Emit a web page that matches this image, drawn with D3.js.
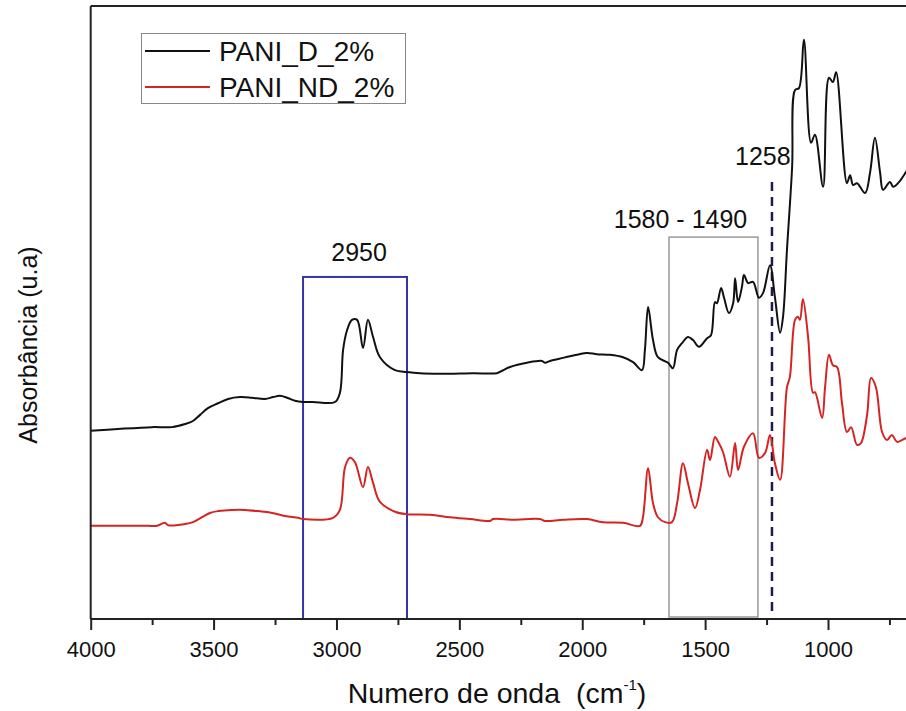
<html>
    <head>
        <script src="https://d3js.org/d3.v7.min.js"></script>
        <style>
            body { margin: 0; background: #fff; }
            text { font-family: "Liberation Sans", Arial, sans-serif; fill: #111; white-space: pre; }
        </style>
    </head>
    <body>
        <svg width="906" height="711"></svg>
        <script>
        // wavenumber (cm-1) and absorbance (arbitrary units)
        const waveD = [4000, 3889, 3751, 3669, 3616, 3584, 3555, 3523, 3482, 3441, 3392, 3344, 3291, 3258, 3230, 3201,
            3169, 3136, 3096, 3006, 2986, 2973, 2957, 2937, 2916, 2892, 2872, 2851, 2823, 2762, 2713, 2660, 2579, 2538,
            2444, 2347, 2326, 2294, 2225, 2164, 2151, 2131, 2078, 2021, 1981, 1940, 1887, 1834, 1793, 1757, 1745, 1732,
            1712, 1692, 1651, 1631, 1614, 1594, 1570, 1549, 1525, 1492, 1476, 1460, 1452, 1435, 1423, 1403, 1386, 1378,
            1366, 1350, 1342, 1325, 1305, 1281, 1264, 1236, 1216, 1195, 1183, 1167, 1146, 1134, 1118, 1098, 1069, 1053,
            1020, 996, 980, 967, 923, 910, 898, 882, 849, 829, 809, 788, 776, 748, 735, 715, 683, 666];
        const absD = [30.7, 31.0, 31.3, 31.3, 31.8, 32.3, 33.3, 34.4, 35.2, 35.9, 36.2, 36.1, 35.9, 36.2, 36.4, 36.1,
            35.6, 35.4, 35.4, 35.4, 36.9, 43.9, 47.1, 48.8, 48.8, 44.2, 48.8, 46.0, 42.7, 40.6, 40.3, 40.1, 40.0, 40.0,
            40.1, 40.1, 40.5, 41.1, 41.8, 42.1, 41.8, 42.1, 42.6, 43.1, 43.4, 43.2, 43.1, 42.7, 41.9, 40.6, 43.9, 50.9,
            45.5, 42.7, 41.8, 40.9, 43.9, 45.0, 46.0, 45.5, 44.4, 45.8, 46.3, 51.7, 51.5, 54.0, 52.4, 49.9, 51.5, 55.6,
            51.7, 54.2, 56.1, 54.8, 55.0, 52.4, 53.2, 57.7, 52.5, 46.7, 49.3, 60.2, 73.7, 86.3, 86.6, 94.5, 77.7, 79.0,
            70.5, 88.3, 87.6, 89.2, 71.1, 72.4, 70.8, 71.1, 69.5, 72.8, 78.5, 72.8, 70.0, 71.3, 70.5, 71.1, 72.9, 74.0];

        const waveND = [4000, 3889, 3767, 3730, 3698, 3685, 3616, 3584, 3547, 3515, 3482, 3425, 3372, 3319, 3262, 3209,
            3156, 3136, 3014, 2986, 2965, 2945, 2925, 2892, 2872, 2851, 2823, 2762, 2713, 2619, 2538, 2457, 2375, 2363,
            2282, 2172, 2151, 2078, 1981, 1916, 1834, 1765, 1753, 1732, 1712, 1692, 1663, 1635, 1614, 1590, 1570, 1541,
            1521, 1492, 1480, 1460, 1447, 1427, 1399, 1378, 1366, 1342, 1305, 1281, 1256, 1236, 1216, 1195, 1167, 1155,
            1134, 1122, 1114, 1102, 1081, 1061, 1053, 1024, 1012, 996, 980, 963, 943, 923, 906, 882, 866, 841, 825, 805,
            780, 760, 740, 719, 683, 666];
        const absND = [15.2, 15.2, 15.2, 15.2, 15.7, 15.3, 15.5, 15.8, 16.6, 17.3, 17.6, 17.8, 17.8, 17.6, 17.3, 16.8,
            16.5, 16.3, 16.5, 17.8, 24.8, 26.3, 25.6, 21.5, 24.8, 22.2, 19.1, 17.5, 17.1, 17.0, 16.6, 16.3, 16.0, 16.3,
            16.2, 16.3, 16.0, 16.2, 16.3, 15.8, 15.7, 15.2, 16.6, 24.6, 18.9, 16.6, 15.8, 15.8, 18.9, 25.4, 22.2, 18.1,
            21.0, 27.6, 25.9, 29.7, 28.9, 27.2, 23.2, 28.7, 24.3, 28.1, 30.3, 26.3, 27.1, 30.0, 25.4, 22.7, 37.8, 39.5,
            48.8, 49.3, 48.8, 52.2, 46.0, 36.9, 37.0, 32.8, 37.8, 43.1, 41.4, 41.1, 35.2, 30.5, 31.3, 28.4, 28.7, 33.3,
            39.3, 37.8, 30.5, 29.2, 30.0, 28.9, 29.5, 29.5];

        const seriesNames = ['PANI_D_2%', 'PANI_ND_2%'];
        const seriesColors = ['#111111', '#d42424'];
        const xTicks = [4000, 3500, 3000, 2500, 2000, 1500, 1000];

        // marked regions: [from, to] in cm-1, top in absorbance units
        const box2950 = [3136, 2713, 55.8];
        const box1580 = [1647, 1285, 62.3];
        const line1258 = [1228, 1.0, 71.3];

        const svg = d3.select('svg');
        svg.append('rect').attr('width', 906).attr('height', 711).attr('fill', '#fff');

        const x = d3.scaleLinear().domain([4000, 1000]).range([90.7, 828]);
        const y = d3.scaleLinear().domain([0, 100]).range([619, 6]);

        svg.append('clipPath').attr('id', 'plot')
            .append('rect').attr('x', 90.7).attr('y', 6).attr('width', 900).attr('height', 613);

        const layer = svg.append('g').attr('clip-path', 'url(#plot)');

        // boxes and marker
        layer.append('rect')
            .attr('x', x(box2950[0])).attr('y', y(box2950[2]))
            .attr('width', x(box2950[1]) - x(box2950[0])).attr('height', y(0) - y(box2950[2]))
            .attr('fill', 'none').attr('stroke', '#3535a8').attr('stroke-width', 2);
        layer.append('rect')
            .attr('x', x(box1580[0])).attr('y', y(box1580[2]))
            .attr('width', x(box1580[1]) - x(box1580[0])).attr('height', y(0) - y(box1580[2]) - 2)
            .attr('fill', 'none').attr('stroke', '#999').attr('stroke-width', 1.5);
        layer.append('line')
            .attr('x1', x(line1258[0])).attr('x2', x(line1258[0]))
            .attr('y1', y(line1258[2])).attr('y2', y(line1258[1]))
            .attr('stroke', '#1c1c50').attr('stroke-width', 2.5).attr('stroke-dasharray', '9,6');

        const line = d3.line().x(d => x(d[0])).y(d => y(d[1])).curve(d3.curveCatmullRom.alpha(0.5));
        const dataD = waveD.map((w, i) => [w, absD[i]]);
        const dataND = waveND.map((w, i) => [w, absND[i]]);

        layer.selectAll('path.spec').data([dataD, dataND])
            .join('path')
            .attr('class', 'spec')
            .attr('d', line)
            .attr('fill', 'none')
            .attr('stroke', (d, i) => seriesColors[i])
            .attr('stroke-width', 2)
            .attr('stroke-linejoin', 'round');

        // frame
        svg.append('line').attr('x1', 90.7).attr('x2', 906).attr('y1', 6).attr('y2', 6)
            .attr('stroke', '#222').attr('stroke-width', 2);
        svg.append('line').attr('x1', 90.7).attr('x2', 90.7).attr('y1', 6).attr('y2', 619)
            .attr('stroke', '#222').attr('stroke-width', 2);

        // x axis
        const minor = d3.range(3750, 500, -500);
        svg.append('g').attr('transform', 'translate(0,619)')
            .call(d3.axisBottom(x).tickValues(minor).tickSize(6).tickFormat(''))
            .call(g => g.select('.domain').remove())
            .call(g => g.selectAll('line').attr('stroke', '#222').attr('stroke-width', 2));
        const xAxis = svg.append('g').attr('transform', 'translate(0,619)')
            .call(d3.axisBottom(x).tickValues(xTicks).tickFormat(d3.format('d'))
                .tickSize(11).tickPadding(11).tickSizeOuter(0));
        xAxis.select('.domain').attr('d', 'M90.7,0H906').attr('stroke', '#222').attr('stroke-width', 2);
        xAxis.selectAll('line').attr('stroke', '#222').attr('stroke-width', 2);
        xAxis.selectAll('text').attr('font-size', 22).attr('fill', '#111')
            .attr('font-family', '"Liberation Sans", Arial, sans-serif');

        // titles
        const xt = svg.append('text').attr('x', 497).attr('y', 703)
            .attr('text-anchor', 'middle').attr('font-size', 28.5);
        xt.append('tspan').text('Numero de onda  (cm');
        xt.append('tspan').attr('font-size', 15).attr('dy', -13).text('-1');
        xt.append('tspan').attr('dy', 13).text(')');

        svg.append('text').attr('transform', 'translate(37,345) rotate(-90)')
            .attr('text-anchor', 'middle').attr('font-size', 25).text('Absorbância (u.a)');

        // annotations
        svg.append('text').attr('x', x(2908)).attr('y', 261).attr('text-anchor', 'middle')
            .attr('font-size', 25).text('2950');
        svg.append('text').attr('x', x(1600)).attr('y', 228).attr('text-anchor', 'middle')
            .attr('font-size', 25).text('1580 - 1490');
        svg.append('text').attr('x', x(1265)).attr('y', 165).attr('text-anchor', 'middle')
            .attr('font-size', 25).text('1258');

        // legend
        const legend = svg.append('g');
        legend.append('rect').attr('x', 141.5).attr('y', 33.5).attr('width', 264).attr('height', 70)
            .attr('fill', '#fff').attr('stroke', '#888').attr('stroke-width', 1);
        seriesNames.forEach((name, i) => {
            const ly = 51 + i * 36;
            legend.append('line').attr('x1', 145).attr('x2', 210).attr('y1', ly).attr('y2', ly)
                .attr('stroke', seriesColors[i]).attr('stroke-width', 2);
            legend.append('text').attr('x', 219).attr('y', ly + 10).attr('font-size', 28).text(name);
        });
        </script>
    </body>
</html>
